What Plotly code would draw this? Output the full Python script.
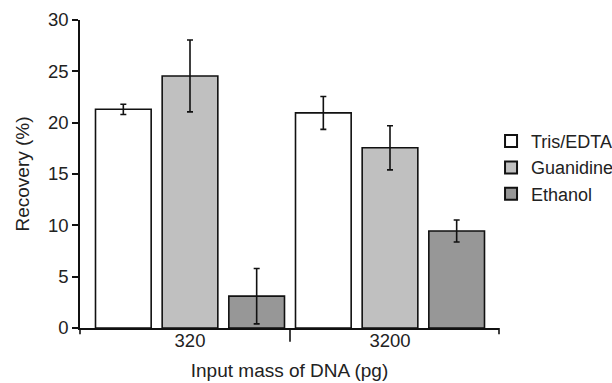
import plotly.graph_objects as go

categories = ["320", "3200"]
series_names = ["Tris/EDTA", "Guanidine", "Ethanol"]
values = {
    "Tris/EDTA": [21.3, 20.95],
    "Guanidine": [24.55, 17.55],
    "Ethanol": [3.1, 9.45],
}
errors = {
    "Tris/EDTA": [0.5, 1.6],
    "Guanidine": [3.5, 2.15],
    "Ethanol": [2.7, 1.07],
}
colors = {"Tris/EDTA": "#ffffff", "Guanidine": "#c0c0c0", "Ethanol": "#979797"}

FONT = "Liberation Sans, Arial, sans-serif"
INK = "#111111"

fig = go.Figure()
for name in series_names:
    fig.add_trace(go.Bar(
        name=name, x=categories, y=values[name],
        marker=dict(color=colors[name], line=dict(color=INK, width=1.6)),
        error_y=dict(type="data", array=errors[name], visible=True,
                     color=INK, thickness=1.6, width=3),
    ))

fig.update_layout(
    width=612, height=383,
    margin=dict(l=80, r=113, t=20, b=55, autoexpand=False),
    paper_bgcolor="white", plot_bgcolor="white",
    barmode="group", bargap=0.0, bargroupgap=0.165,
    font=dict(family=FONT, color="#222222", size=18),
    showlegend=True,
    legend=dict(x=0.981, xanchor="left", y=0.52, yanchor="middle",
                font=dict(size=18, family=FONT, color="#222222"),
                itemsizing="constant", tracegroupgap=0,
                bgcolor="rgba(0,0,0,0)"),
    xaxis=dict(
        type="category", range=[-0.55, 1.545],
        ticks="", ticklen=0, ticklabelstandoff=-5,
        showline=True, linecolor=INK, linewidth=1.6, showgrid=False,
        tickfont=dict(size=18.5),
        title=dict(text="Input mass of DNA (pg)", font=dict(size=19), standoff=14),
    ),
    yaxis=dict(
        range=[0, 30], tickvals=[0, 5, 10, 15, 20, 25, 30], ticks="outside",
        ticklen=6, tickwidth=1.6, tickcolor=INK, showline=True,
        linecolor=INK, linewidth=1.6, showgrid=False, zeroline=False,
        tickfont=dict(size=18.5),
        title=dict(text="Recovery (%)", font=dict(size=19), standoff=13),
    ),
)
# x-axis tick marks: at both axis ends and a longer one between the groups
for xr, x0, ln in [("paper", 0, 0.02), ("paper", 1, 0.02), ("x", 0.5, 0.045)]:
    fig.add_shape(type="line", xref=xr, yref="paper", x0=x0, x1=x0, y0=0, y1=-ln,
                  line=dict(color=INK, width=1.6))

fig.write_html("out.html")
